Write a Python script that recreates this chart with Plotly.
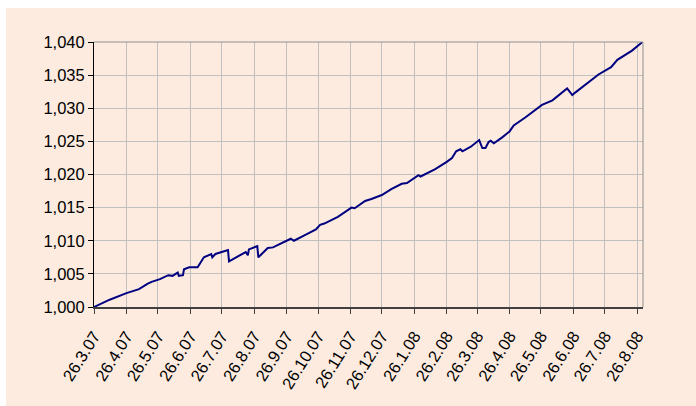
import plotly.graph_objects as go

dates = [
    "2007-03-26", "2007-04-10", "2007-04-26", "2007-05-02", "2007-05-08", "2007-05-16",
    "2007-05-20", "2007-05-28", "2007-06-03", "2007-06-05", "2007-06-09", "2007-06-14",
    "2007-06-15", "2007-06-19", "2007-06-20", "2007-06-25", "2007-07-03", "2007-07-09",
    "2007-07-16", "2007-07-17", "2007-07-20", "2007-07-27", "2007-07-31", "2007-08-01",
    "2007-08-02", "2007-08-10", "2007-08-18", "2007-08-20", "2007-08-21", "2007-08-29",
    "2007-08-30", "2007-09-08", "2007-09-13", "2007-09-30", "2007-10-03", "2007-10-13",
    "2007-10-24", "2007-10-28", "2007-11-01", "2007-11-14", "2007-11-27", "2007-11-30",
    "2007-12-06", "2007-12-10", "2007-12-16", "2007-12-26", "2008-01-04", "2008-01-14",
    "2008-01-19", "2008-01-30", "2008-02-01", "2008-02-10", "2008-02-15", "2008-02-26",
    "2008-03-02", "2008-03-06", "2008-03-10", "2008-03-12", "2008-03-20", "2008-03-28",
    "2008-03-31", "2008-04-03", "2008-04-06", "2008-04-08", "2008-04-11", "2008-04-19",
    "2008-04-26", "2008-04-30", "2008-05-11", "2008-05-27", "2008-06-06", "2008-06-20",
    "2008-06-25", "2008-06-28", "2008-07-09", "2008-07-20", "2008-08-01", "2008-08-07",
    "2008-08-21", "2008-08-31",
]
values = [
    1.0000, 1.0011, 1.0021, 1.0024, 1.0027, 1.0035,
    1.0038, 1.0042, 1.0046, 1.0048, 1.0047, 1.0052,
    1.0047, 1.0048, 1.0057, 1.0060, 1.0060, 1.0075,
    1.0080, 1.0075, 1.0080, 1.0083, 1.0085, 1.0086,
    1.0069, 1.0076, 1.0083, 1.0078, 1.0087, 1.0092,
    1.0075, 1.0089, 1.0090, 1.0103, 1.0100, 1.0108,
    1.0117, 1.0124, 1.0126, 1.0136, 1.0150, 1.0149,
    1.0155, 1.0160, 1.0163, 1.0169, 1.0178, 1.0186,
    1.0187, 1.0199, 1.0197, 1.0204, 1.0208, 1.0219,
    1.0225, 1.0235, 1.0238, 1.0235, 1.0242, 1.0252,
    1.0240, 1.0240, 1.0249, 1.0251, 1.0247, 1.0256,
    1.0265, 1.0274, 1.0286, 1.0305, 1.0312, 1.0330,
    1.0320, 1.0324, 1.0338, 1.0351, 1.0362, 1.0373,
    1.0387, 1.0400,
]
tick_dates = [
    "2007-03-26", "2007-04-26", "2007-05-26", "2007-06-26", "2007-07-26", "2007-08-26",
    "2007-09-26", "2007-10-26", "2007-11-26", "2007-12-26", "2008-01-26", "2008-02-26",
    "2008-03-26", "2008-04-26", "2008-05-26", "2008-06-26", "2008-07-26", "2008-08-26",
]
tick_labels = [
    "26.3.07", "26.4.07", "26.5.07", "26.6.07", "26.7.07", "26.8.07", "26.9.07",
    "26.10.07", "26.11.07", "26.12.07", "26.1.08", "26.2.08", "26.3.08", "26.4.08",
    "26.5.08", "26.6.08", "26.7.08", "26.8.08",
]
y_ticks = [1.000, 1.005, 1.010, 1.015, 1.020, 1.025, 1.030, 1.035, 1.040]
y_labels = ["1,000", "1,005", "1,010", "1,015", "1,020", "1,025", "1,030", "1,035", "1,040"]

PEACH = "#FDEBDF"
font = dict(family="Liberation Sans, Arial, sans-serif", size=16.5, color="#000000")

fig = go.Figure()
fig.add_trace(go.Scatter(
    x=dates, y=values, mode="lines",
    line=dict(color="#000080", width=2),
    hoverinfo="skip", showlegend=False,
))

L, R, T, B = 94, 53, 42, 99
W, H = 696, 406
pw, ph = W - L - R, H - T - B

def px_x(px):
    return (px - L) / pw

def px_y(py):
    return (H - B - py) / ph

fig.add_shape(type="rect", xref="paper", yref="paper",
              x0=px_x(6), x1=px_x(700), y0=px_y(410), y1=px_y(8),
              fillcolor=PEACH, line=dict(width=0), layer="below")

fig.update_layout(
    width=W, height=H,
    margin=dict(l=L, r=R, t=T, b=B),
    paper_bgcolor="#FFFFFF",
    plot_bgcolor="rgba(0,0,0,0)",
    font=font,
    xaxis=dict(
        type="date",
        range=["2007-03-26", "2008-08-31 12:00"],
        tickmode="array", tickvals=tick_dates, ticktext=tick_labels,
        tickangle=-58, ticklabelstandoff=6,
        showgrid=True, gridcolor="#C0C0C0", gridwidth=1,
        showline=True, linecolor="#404040", linewidth=2,
        ticks="outside", ticklen=5, tickcolor="#404040", tickwidth=1,
        mirror=False, zeroline=False, automargin=False,
        tickfont=font,
    ),
    yaxis=dict(
        range=[1.000, 1.040],
        tickmode="array", tickvals=y_ticks, ticktext=y_labels,
        showgrid=True, gridcolor="#C0C0C0", gridwidth=1,
        showline=True, linecolor="#000000", linewidth=1,
        ticks="outside", ticklen=5, tickcolor="#000000", tickwidth=1,
        zeroline=False, automargin=False, tickfont=font,
    ),
)

# gray plot-area border on top and right
fig.add_shape(type="line", xref="paper", yref="paper", x0=1, x1=1, y0=0, y1=1,
              line=dict(color="#909090", width=1))
fig.add_shape(type="line", xref="paper", yref="paper", x0=0, x1=1, y0=1, y1=1,
              line=dict(color="#909090", width=1))

fig.write_html(
    "out.html",
    config={"displayModeBar": False},
    post_script="document.body.style.margin='0';document.body.style.overflow='hidden';",
)
